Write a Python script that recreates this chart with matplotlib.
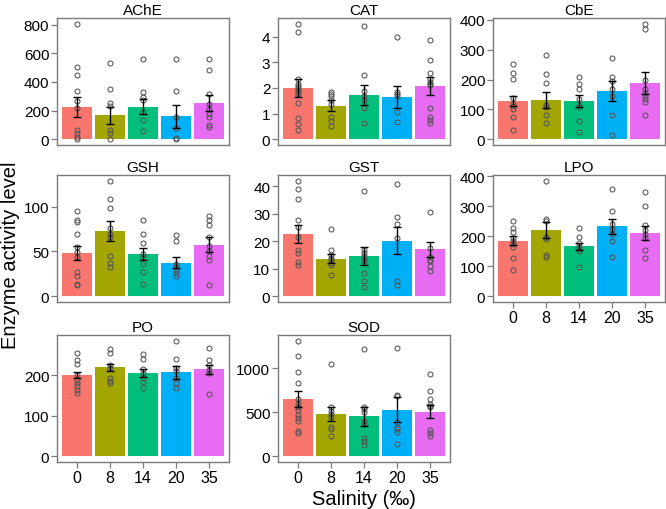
import matplotlib
matplotlib.use("Agg")
import matplotlib.pyplot as plt
import numpy as np

plt.rcParams['font.family'] = ['Liberation Sans', 'DejaVu Sans']

salinity = ['0', '8', '14', '20', '35']
colors = ['#F8766D', '#A3A500', '#00BF7D', '#00B0F6', '#E76BF3']

ache_mean = [225, 168, 228, 161, 251]
ache_se = [73, 60, 52, 80, 57]
ache_pts = [[806, 503, 448, 336, 267, 221, 64, 46, 18, 2],
            [531, 354, 255, 230, 64, 46, 2],
            [559, 331, 294, 271, 193, 133, 55],
            [559, 336, 152, 78, 7, 2],
            [559, 480, 313, 244, 214, 175, 156, 101, 83]]
ache_ticks = [0, 200, 400, 600, 800]

cat_mean = [2.0, 1.31, 1.72, 1.64, 2.08]
cat_se = [0.36, 0.2, 0.4, 0.42, 0.34]
cat_pts = [[4.50, 4.18, 2.35, 2.16, 2.08, 2.0, 1.92, 1.85, 1.77, 1.42, 0.84, 0.58, 0.35],
           [1.86, 1.77, 1.68, 1.51, 1.38, 0.87, 0.71, 0.5],
           [4.40, 2.51, 1.88, 1.67, 1.51, 1.22, 0.63],
           [3.97, 1.84, 1.75, 1.67, 1.05, 0.67],
           [3.87, 3.10, 2.59, 2.33, 2.23, 2.16, 2.10, 1.22, 0.87, 0.76, 0.65]]
cat_ticks = [0, 1, 2, 3, 4]

cbe_mean = [128, 130, 128, 161, 188]
cbe_se = [18, 27, 20, 33, 38]
cbe_pts = [[251, 221, 201, 137, 118, 110, 102, 74, 32],
           [284, 218, 190, 115, 107, 80, 55],
           [208, 185, 170, 135, 115, 107, 60, 24],
           [273, 209, 196, 168, 146, 80, 15],
           [387, 369, 197, 168, 155, 146, 135, 124, 80]]
cbe_ticks = [0, 100, 200, 300, 400]

gsh_mean = [48, 73, 47, 37.6, 57.6]
gsh_se = [8, 11, 7, 6.5, 8.5]
gsh_pts = [[95, 85, 83, 69, 55, 49, 44, 27, 22.5, 14, 12],
           [129, 109, 99, 76, 70, 66, 45, 37, 32.5],
           [85, 70, 59, 47, 44, 36, 27, 14],
           [68, 62, 36, 32.5, 29.5, 26, 23],
           [90, 85, 80, 66, 56, 50, 45, 40, 12]]
gsh_ticks = [0, 50, 100]

gst_mean = [22.6, 13.7, 14.5, 20.2, 17.1]
gst_se = [3.2, 1.6, 3.3, 5.0, 2.8]
gst_pts = [[42, 39, 35.3, 27.9, 25.3, 21.7, 16.9, 15.9, 12.3, 11.5],
           [24.3, 16.9, 15.1, 13.9, 13.1, 12.1, 11.5, 7.9],
           [38.2, 16.9, 15.9, 14.7, 13.5, 12.7, 8.5, 5.7, 3.5],
           [40.8, 28.9, 26.2, 21.1, 5.5, 4.1],
           [30.7, 17.5, 14.3, 13.3, 12.7, 10.9, 9.1]]
gst_ticks = [0, 10, 20, 30, 40]

lpo_mean = [185, 221, 166, 233, 210]
lpo_se = [15, 27, 11, 26, 24]
lpo_pts = [[251, 227, 214, 194, 183, 174, 163, 128, 89],
           [385, 258, 251, 196, 192, 137, 132],
           [229, 199, 177, 166, 159, 150, 99],
           [356, 284, 240, 225, 207, 183, 132],
           [348, 300, 238, 221, 207, 194, 155, 128]]
lpo_ticks = [0, 100, 200, 300, 400]

po_mean = [201, 220, 207, 208, 215]
po_se = [8, 9, 10, 16, 10.5]
po_pts = [[255, 238, 228, 200, 189, 181, 173, 163, 157],
          [265, 255, 226, 218, 193, 187, 181],
          [252, 241, 216, 206, 193, 185, 169],
          [286, 241, 218, 210, 193, 181, 169],
          [269, 238, 226, 214, 206, 155]]
po_ticks = [0, 100, 200]

sod_mean = [655, 479, 453, 532, 509]
sod_se = [93, 80, 110, 140, 77]
sod_pts = [[1315, 1146, 955, 835, 655, 592, 562, 524, 472, 431, 404, 292, 262],
           [1049, 562, 517, 479, 442, 337, 311, 228],
           [1221, 562, 536, 509, 397, 367, 210, 172, 124],
           [1236, 697, 685, 386, 337, 307, 281, 135],
           [936, 742, 655, 592, 573, 562, 300, 262, 236]]
sod_ticks = [0, 500, 1000]

panels = [
    ('AChE', ache_mean, ache_se, ache_pts, ache_ticks, 0, 0, False),
    ('CAT', cat_mean, cat_se, cat_pts, cat_ticks, 0, 1, False),
    ('CbE', cbe_mean, cbe_se, cbe_pts, cbe_ticks, 0, 2, False),
    ('GSH', gsh_mean, gsh_se, gsh_pts, gsh_ticks, 1, 0, False),
    ('GST', gst_mean, gst_se, gst_pts, gst_ticks, 1, 1, False),
    ('LPO', lpo_mean, lpo_se, lpo_pts, lpo_ticks, 1, 2, True),
    ('PO', po_mean, po_se, po_pts, po_ticks, 2, 0, True),
    ('SOD', sod_mean, sod_se, sod_pts, sod_ticks, 2, 1, True),
]

W, H = 666, 510
fig = plt.figure(figsize=(W / 100, H / 100), dpi=100)

col_left = [57, 278, 493]
col_w = 172
row_top = [19, 176, 336]
row_h = 127

frame_col = '#7a7a7a'

for name, mean, se, pts, ticks, r, c, showx in panels:
    l = col_left[c] / W
    b = 1 - (row_top[r] + row_h) / H
    ax = fig.add_axes([l, b, col_w / W, row_h / H])
    x = np.arange(len(salinity))
    ax.bar(x, mean, width=0.9, color=colors, edgecolor='none', zorder=1)
    for i, p in enumerate(pts):
        ax.plot([x[i]] * len(p), p, 'o', ms=3.6, mfc='none', mec='#555555',
                mew=0.75, zorder=3)
    ax.errorbar(x, mean, yerr=se, fmt='none', ecolor='black', elinewidth=1.0,
                capsize=3, capthick=1.0, zorder=4)
    ax.use_sticky_edges = False
    ax.margins(y=0.05)
    ax.set_xlim(-0.6, 4.6)
    ax.set_yticks(ticks)
    ax.set_yticklabels([str(t) for t in ticks])
    ax.set_title(name, fontsize=11, pad=3)
    for s in ax.spines.values():
        s.set_color(frame_col)
        s.set_linewidth(1.0)
    ax.tick_params(axis='y', length=4, width=0.9, color=frame_col,
                   labelsize=11, pad=1.5)
    if showx:
        ax.set_xticks(x)
        ax.set_xticklabels(salinity)
        ax.tick_params(axis='x', length=4, width=0.9, color=frame_col,
                       labelsize=11.5, pad=2)
    else:
        ax.set_xticks([])
    if name == 'SOD':
        ax.set_xlabel('Salinity (‰)', fontsize=14.5, labelpad=3)

fig.text(0.016, 0.5, 'Enzyme activity level', rotation=90, fontsize=14.5,
         ha='center', va='center')

fig.savefig('out.png', dpi=100)
